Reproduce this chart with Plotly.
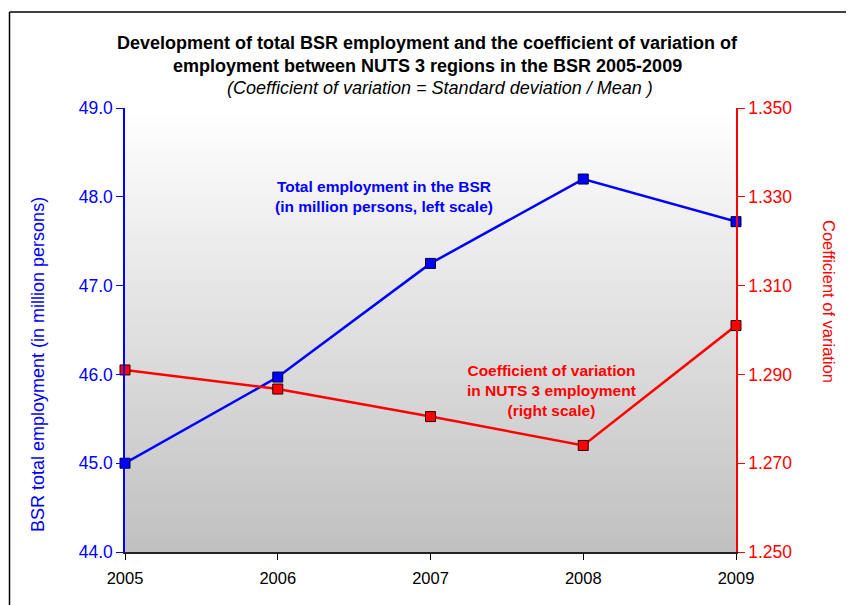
import plotly.graph_objects as go

years = [2005, 2006, 2007, 2008, 2009]
employment = [45.0, 45.97, 47.25, 48.2, 47.72]
coef_var = [1.2910, 1.2867, 1.2805, 1.2740, 1.3010]

left_ticks = [44.0, 45.0, 46.0, 47.0, 48.0, 49.0]
right_ticks = [1.250, 1.270, 1.290, 1.310, 1.330, 1.350]

title_l1 = "Development of total BSR employment and the coefficient of variation of"
title_l2 = "employment between NUTS 3 regions in the BSR 2005-2009"
subtitle = "(Coefficient of variation = Standard deviation / Mean )"

FONT = "Liberation Sans, Arial, sans-serif"
BLUE = "#0000FF"
RED = "#FF0000"

# page-pixel -> paper helpers (plot area at page x 125..736, y 108..552)
def px(x):
    return (x - 125) / 611


def py(y):
    return (552 - y) / 444


fig = go.Figure()

n = 80
shapes = []
for i in range(n):
    v = int(round(192 + (255 - 192) * ((i + 0.5) / n)))
    shapes.append(dict(type="rect", xref="paper", yref="paper",
                       x0=0, x1=1, y0=i / n, y1=(i + 1) / n + 0.002,
                       fillcolor=f"rgb({v},{v},{v})", line_width=0, layer="below"))
shapes.append(dict(type="line", xref="paper", yref="paper",
                   x0=px(9.5), x1=px(870), y0=py(12), y1=py(12),
                   line=dict(color="black", width=1.5)))
shapes.append(dict(type="line", xref="paper", yref="paper",
                   x0=px(9.5), x1=px(9.5), y0=py(12), y1=py(640),
                   line=dict(color="black", width=1.5)))

fig.add_trace(go.Scatter(
    x=years, y=employment, mode="lines+markers", yaxis="y",
    line=dict(color=BLUE, width=2.5),
    marker=dict(symbol="square", size=10, color=BLUE, line=dict(color="#000033", width=1)),
    showlegend=False, cliponaxis=False))
fig.add_trace(go.Scatter(
    x=years, y=coef_var, mode="lines+markers", yaxis="y2",
    line=dict(color=RED, width=2.5),
    marker=dict(symbol="square", size=10, color=RED, line=dict(color="#330000", width=1)),
    showlegend=False, cliponaxis=False))


def ann(text, x, y, size, color, angle=0):
    return dict(text=text, xref="paper", yref="paper", x=px(x), y=py(y),
                xanchor="center", yanchor="middle", showarrow=False, align="center",
                textangle=angle, font=dict(family=FONT, size=size, color=color))


annotations = [
    ann(f"<b>{title_l1}</b>", 427, 43, 18, "black"),
    ann(f"<b>{title_l2}</b>", 427, 66, 18, "black"),
    ann(f"<i>{subtitle}</i>", 440, 88, 18, "black"),
    ann("<b>Total employment in the BSR<br>(in million persons, left scale)</b>", 384, 197, 15.5, BLUE),
    ann("<b>Coefficient of variation<br>in NUTS 3 employment<br>(right scale)</b>", 551, 390, 15.5, RED),
    ann("BSR total employment (in million persons)", 38, 365, 18, BLUE, -90),
    ann("Coefficient of variation", 829, 301, 16.5, RED, 90),
]

fig.update_layout(
    width=854, height=605,
    margin=dict(l=117, r=126, t=100, b=61),
    paper_bgcolor="white", plot_bgcolor="rgba(0,0,0,0)",
    font=dict(family=FONT, size=14, color="black"),
    shapes=shapes, annotations=annotations,
    xaxis=dict(range=[2005, 2009], tickvals=years, ticktext=[str(y) for y in years],
               showgrid=False, zeroline=False, showline=True, linecolor="#222222", linewidth=2,
               ticks="outside", ticklen=6, tickcolor="black", ticklabelstandoff=4,
               tickfont=dict(family=FONT, size=16.5, color="black")),
    yaxis=dict(range=[44, 49], tickvals=left_ticks, tickformat=".1f",
               showgrid=False, zeroline=False, showline=True, linecolor=BLUE, linewidth=1.5,
               ticks="outside", ticklen=7, tickcolor=BLUE,
               tickfont=dict(family=FONT, size=17.5, color=BLUE)),
    yaxis2=dict(range=[1.25, 1.35], tickvals=right_ticks, tickformat=".3f",
                overlaying="y", side="right", anchor="x",
                showgrid=False, zeroline=False, showline=True, linecolor=RED, linewidth=1.5,
                ticks="outside", ticklen=7, tickcolor=RED,
                tickfont=dict(family=FONT, size=17.5, color=RED)),
)

fig.write_html("out.html")
